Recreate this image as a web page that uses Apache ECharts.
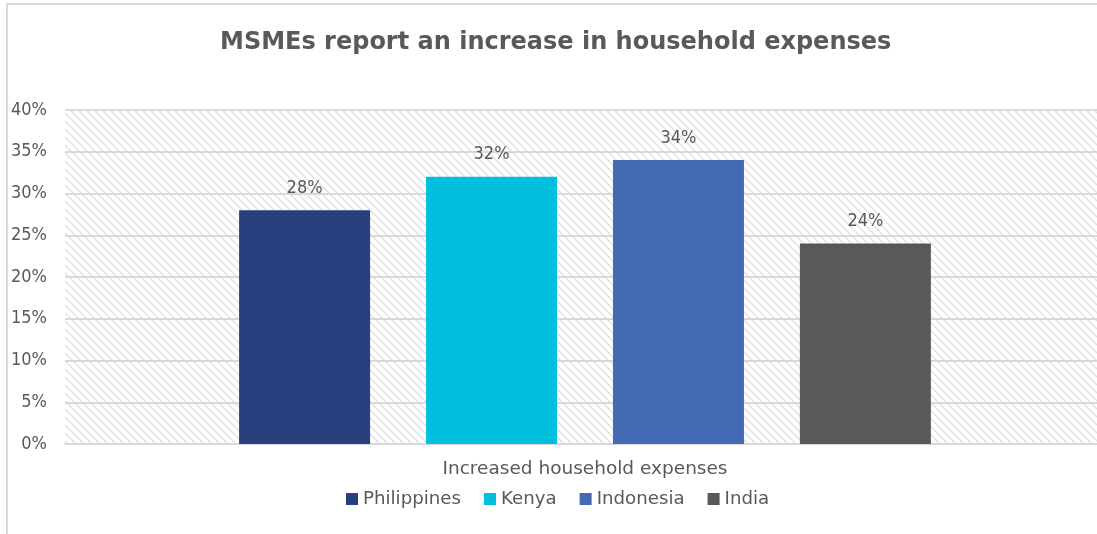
<!DOCTYPE html>
<html><head><meta charset="utf-8">
<script src="https://cdn.jsdelivr.net/npm/echarts@6/dist/echarts.min.js"></script>
<style>html,body{margin:0;padding:0;background:#fff;overflow:hidden}#c{width:1105px;height:534px}</style>
</head><body><div id="c"></div>
<script>
var titleText = 'MSMEs report an increase in household expenses';
var categories = ['Increased household expenses'];
var seriesNames = ['Philippines', 'Kenya', 'Indonesia', 'India'];
var seriesColors = ['#283f7e', '#00bfdf', '#436ab3', '#58595b'];
var philippines = [28];
var kenya = [32];
var indonesia = [34];
var india = [24];
var yTicks = [0, 5, 10, 15, 20, 25, 30, 35, 40];

var values = [philippines, kenya, indonesia, india];

var pc = document.createElement('canvas');
pc.width = 8; pc.height = 8;
var ctx = pc.getContext('2d');
ctx.fillStyle = '#ffffff'; ctx.fillRect(0,0,8,8);
ctx.strokeStyle = '#e0e0e0'; ctx.lineWidth = 1.3;
ctx.beginPath(); ctx.moveTo(-1,-1); ctx.lineTo(9,9); ctx.stroke();
ctx.beginPath(); ctx.moveTo(-1,7); ctx.lineTo(1,9); ctx.stroke();
ctx.beginPath(); ctx.moveTo(7,-1); ctx.lineTo(9,1); ctx.stroke();

var FONT = 'DejaVu Sans';
var FONTC = 'DejaVu Sans Condensed';
var chart = echarts.init(document.getElementById('c'), null, {renderer: 'canvas'});
var series = seriesNames.map(function (n, i) {
  return {
    name: n, type: 'bar', data: values[i], barWidth: 131, barGap: '42.7%',
    itemStyle: {color: seriesColors[i]},
    label: {show: true, position: 'top', distance: 13, color: '#595959', fontSize: 18, fontFamily: FONTC,
      formatter: function (p) { return p.value + '%'; }}
  };
});
chart.setOption({
  animation: false,
  title: {text: titleText, left: 215, top: 26,
    textStyle: {fontSize: 24, fontWeight: 'bold', color: '#595959', fontFamily: FONT}},
  legend: {data: seriesNames, bottom: 21, left: 341, itemWidth: 12, itemHeight: 12, itemGap: 23,
    icon: 'rect', textStyle: {color: '#595959', fontSize: 18.2, fontFamily: FONT}},
  grid: {left: 65, right: 0, top: 110, bottom: 90, show: true, borderWidth: 0,
    backgroundColor: {image: pc, repeat: 'repeat'}},
  xAxis: {type: 'category', data: categories,
    axisLine: {show: true, lineStyle: {color: '#d9d9d9', width: 2}}, axisTick: {show: false},
    axisLabel: {color: '#595959', fontSize: 18.5, fontFamily: FONT, margin: 16}},
  yAxis: {type: 'value', min: 0, max: 40, interval: 5,
    axisLabel: {color: '#595959', fontSize: 18, fontFamily: FONTC, margin: 18,
      formatter: function (v) { return yTicks.indexOf(v) >= 0 ? v + '%' : ''; }},
    splitLine: {lineStyle: {color: '#d9d9d9', width: 2}}, axisLine: {show: false}, axisTick: {show: false}},
  graphic: [
    {type: 'rect', shape: {x: 7, y: 4, width: 1200, height: 1000}, style: {fill: 'none', stroke: '#d9d9d9', lineWidth: 2}, silent: true, z: -10}
  ],
  series: series
});
</script></body></html>
